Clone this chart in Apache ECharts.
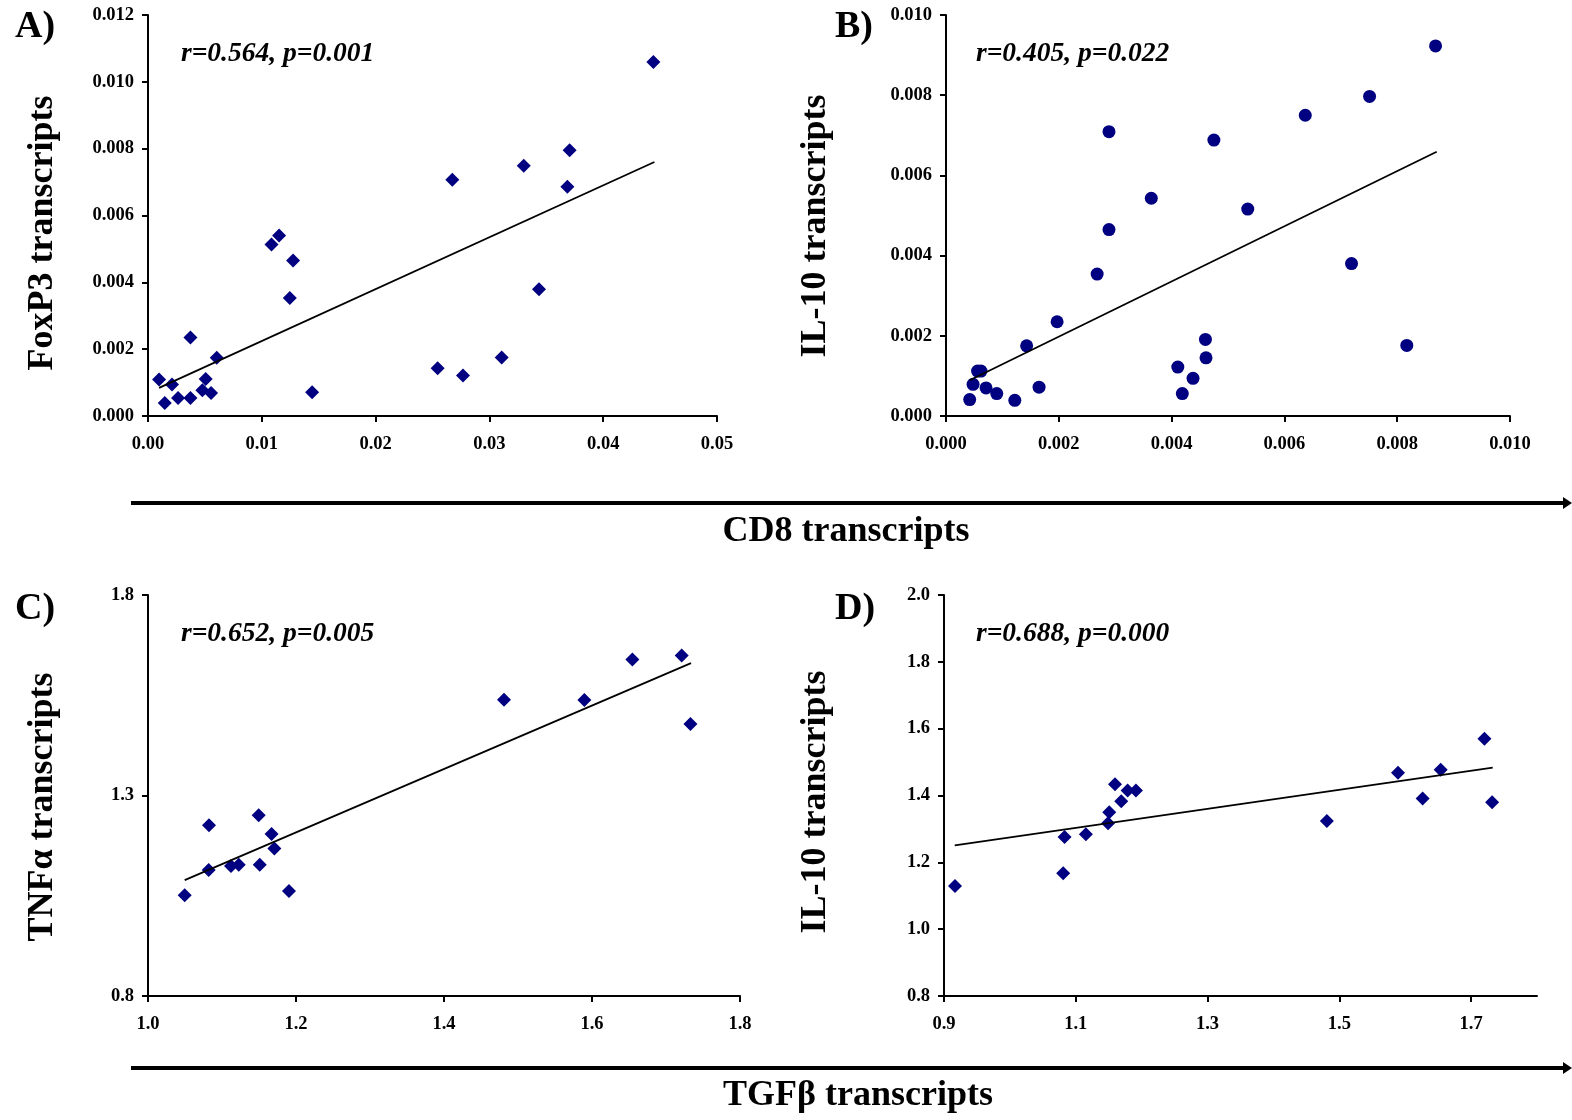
<!DOCTYPE html>
<html>
<head>
<meta charset="utf-8">
<script src="https://cdn.jsdelivr.net/npm/echarts@6/dist/echarts.min.js"></script>
<style>html,body{margin:0;padding:0;background:#fff}#c{width:1572px;height:1120px}</style>
</head>
<body>
<div id="c"></div>
<script>
// Panel A: CD8 vs FoxP3
const cd8A = [0.00097,0.00147,0.00211,0.00264,0.00373,0.00373,0.00478,0.00507,0.00554,0.00604,0.01085,0.01152,0.01275,0.01246,0.01442,0.02545,0.02674,0.02768,0.03108,0.03302,0.03436,0.03685,0.03705,0.04441];
const foxp3A = [0.00109,0.00039,0.00094,0.00054,0.00054,0.00235,0.00077,0.00111,0.00069,0.00174,0.00513,0.0054,0.00465,0.00353,0.00071,0.00143,0.00707,0.00121,0.00175,0.00749,0.00379,0.00686,0.00795,0.01059];
const trendA = [[0.00097,0.00084],[0.0445,0.0076]];
// Panel B: CD8 vs IL-10
const cd8B = [0.00042,0.00048,0.00056,0.00062,0.00071,0.0009,0.00122,0.00143,0.00165,0.00197,0.00268,0.00289,0.00289,0.00364,0.00411,0.00419,0.00438,0.0046,0.00461,0.00475,0.00535,0.00637,0.00719,0.00751,0.00817,0.00868];
const il10B = [0.00041,0.00079,0.00112,0.00112,0.0007,0.00056,0.00039,0.00175,0.00072,0.00235,0.00354,0.00709,0.00465,0.00543,0.00122,0.00056,0.00094,0.00191,0.00145,0.00688,0.00516,0.0075,0.0038,0.00797,0.00176,0.00923];
const trendB = [[0.00042,0.00089],[0.0087,0.00659]];
// Panel C: TGFb vs TNFa
const tgfC = [1.0496,1.082,1.0824,1.1122,1.1226,1.1496,1.151,1.167,1.1708,1.1905,1.4811,1.5897,1.6546,1.7212,1.733];
const tnfC = [1.051,1.114,1.226,1.124,1.127,1.251,1.127,1.204,1.168,1.062,1.539,1.538,1.639,1.649,1.478];
const trendC = [[1.0496,1.089],[1.7338,1.630]];
// Panel D: TGFb vs IL-10
const tgfD = [0.9167,1.0809,1.083,1.1153,1.149,1.1508,1.1595,1.169,1.1787,1.1913,1.4811,1.589,1.6264,1.6538,1.7202,1.7319];
const il10D = [1.129,1.167,1.276,1.284,1.317,1.35,1.434,1.383,1.415,1.415,1.324,1.468,1.391,1.477,1.57,1.38];
const trendD = [[0.9163,1.251],[1.7328,1.4835]];

const ticksCy = [0.8, 1.3, 1.8];
const ticksDx = [0.9, 1.1, 1.3, 1.5, 1.7];

const panelLabels = ['A)', 'B)', 'C)', 'D)'];
const statTexts = ['r=0.564, p=0.001', 'r=0.405, p=0.022', 'r=0.652, p=0.005', 'r=0.688, p=0.000'];
const yTitles = ['FoxP3 transcripts', 'IL-10 transcripts', 'TNF\u03b1 transcripts', 'IL-10 transcripts'];
const xTitles = ['CD8 transcripts', 'TGF\u03b2 transcripts'];

const FF = '"Liberation Serif", "Times New Roman", serif';
const NAVY = '#000080';

function zip(xs, ys) { return xs.map((x, i) => [x, ys[i]]); }

function xAxisBase(grid, min, max, dec, extra) {
  return Object.assign({
    type: 'value', gridIndex: grid, min: min, max: max,
    axisLine: { show: true, onZero: false, lineStyle: { color: '#000', width: 2 } },
    axisTick: { show: true, length: 6, lineStyle: { color: '#000', width: 2 } },
    splitLine: { show: false },
    axisLabel: { color: '#000', fontWeight: 'bold', fontFamily: FF, fontSize: 18.5, margin: 19,
      formatter: v => v.toFixed(dec) }
  }, extra || {});
}
function yAxisBase(grid, min, max, dec, extra) {
  return Object.assign({
    type: 'value', gridIndex: grid, min: min, max: max,
    axisLine: { show: true, onZero: false, lineStyle: { color: '#000', width: 2 } },
    axisTick: { show: true, length: 6, lineStyle: { color: '#000', width: 2 } },
    splitLine: { show: false },
    axisLabel: { color: '#000', fontWeight: 'bold', fontFamily: FF, fontSize: 18.5, margin: 14,
      formatter: v => v.toFixed(dec) }
  }, extra || {});
}

const grids = [
  { left: 148, top: 15, width: 569, height: 401 },
  { left: 946, top: 15, width: 564, height: 401 },
  { left: 148, top: 595, width: 592, height: 401 },
  { left: 944, top: 595, width: 593, height: 401 }
];

const xAxes = [
  xAxisBase(0, 0, 0.05, 2, { interval: 0.01 }),
  xAxisBase(1, 0, 0.010, 3, { interval: 0.002 }),
  xAxisBase(2, 1.0, 1.8, 1, { interval: 0.2 }),
  xAxisBase(3, 0.9, 1.8, 1)
];
xAxes[3].axisTick.customValues = ticksDx;
xAxes[3].axisLabel.customValues = ticksDx;

const yAxes = [
  yAxisBase(0, 0, 0.012, 3, { interval: 0.002 }),
  yAxisBase(1, 0, 0.010, 3, { interval: 0.002 }),
  yAxisBase(2, 0.8, 1.8, 1),
  yAxisBase(3, 0.8, 2.0, 1, { interval: 0.2 })
];
yAxes[2].axisTick.customValues = ticksCy;
yAxes[2].axisLabel.customValues = ticksCy;

const scatterData = [zip(cd8A, foxp3A), zip(cd8B, il10B), zip(tgfC, tnfC), zip(tgfD, il10D)];
const trends = [trendA, trendB, trendC, trendD];
const symbols = ['diamond', 'circle', 'diamond', 'diamond'];
const sizes = [14, 13, 14, 14];

const series = [];
for (let i = 0; i < 4; i++) {
  series.push({
    type: 'line', xAxisIndex: i, yAxisIndex: i, data: trends[i], showSymbol: false,
    lineStyle: { color: '#000', width: 1.8 }, silent: true, z: 3, animation: false
  });
  series.push({
    type: 'scatter', xAxisIndex: i, yAxisIndex: i, data: scatterData[i],
    symbol: symbols[i], symbolSize: sizes[i], itemStyle: { color: NAVY, opacity: 1 }, z: 2, animation: false
  });
}

const graphic = [];
const labelPos = [[15, 27], [835, 27], [15, 609], [835, 609]];
const statPos = [[181, 54], [976, 54], [181, 634], [976, 634]];
const yTitlePos = [[43, 233], [816, 226], [43, 807], [816, 802]];
for (let i = 0; i < 4; i++) {
  graphic.push({ type: 'text', x: labelPos[i][0], y: labelPos[i][1],
    style: { text: panelLabels[i], font: 'bold 38px ' + FF, fill: '#000', align: 'left', textAlign: 'left', verticalAlign: 'middle', textVerticalAlign: 'middle' } });
  graphic.push({ type: 'text', x: statPos[i][0], y: statPos[i][1],
    style: { text: statTexts[i], font: 'italic bold 27.5px ' + FF, fill: '#000', align: 'left', textAlign: 'left', verticalAlign: 'middle', textVerticalAlign: 'middle' } });
  graphic.push({ type: 'text', x: yTitlePos[i][0], y: yTitlePos[i][1], rotation: Math.PI / 2,
    style: { text: yTitles[i], font: 'bold 36px ' + FF, fill: '#000', align: 'center', textAlign: 'center', verticalAlign: 'middle', textVerticalAlign: 'middle' } });
}
const arrowY = [503, 1068];
const xTitlePos = [[846, 532], [858, 1096]];
for (let j = 0; j < 2; j++) {
  graphic.push({ type: 'line', shape: { x1: 131, y1: arrowY[j], x2: 1565, y2: arrowY[j] },
    style: { stroke: '#000', lineWidth: 4 } });
  graphic.push({ type: 'polygon', shape: { points: [[1563, arrowY[j] - 6], [1572, arrowY[j]], [1563, arrowY[j] + 6]] },
    style: { fill: '#000' } });
  graphic.push({ type: 'text', x: xTitlePos[j][0], y: xTitlePos[j][1],
    style: { text: xTitles[j], font: 'bold 36px ' + FF, fill: '#000', align: 'center', textAlign: 'center', verticalAlign: 'middle', textVerticalAlign: 'middle' } });
}

const chart = echarts.init(document.getElementById('c'));
chart.setOption({
  animation: false,
  backgroundColor: '#fff',
  grid: grids,
  xAxis: xAxes,
  yAxis: yAxes,
  series: series,
  graphic: graphic
});
</script>
</body>
</html>
